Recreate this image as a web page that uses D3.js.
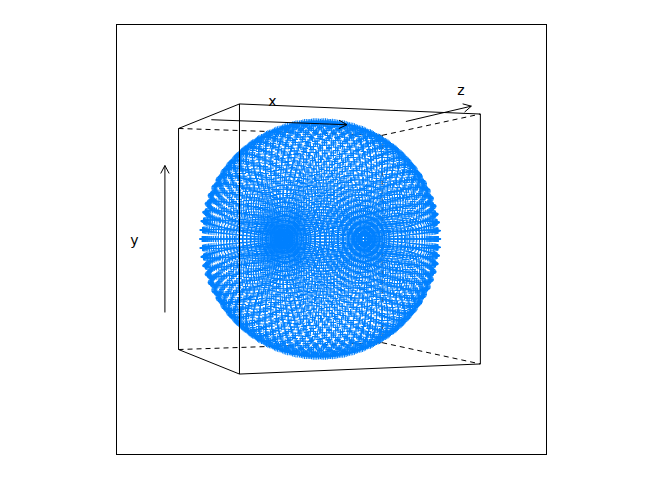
<!DOCTYPE html>
<html><head><meta charset="utf-8">
<style>html,body{margin:0;padding:0;background:#fff}svg{display:block}text{font-family:"DejaVu Sans",sans-serif;font-size:14px;fill:#000}</style>
<script src="https://cdn.jsdelivr.net/npm/d3@7/dist/d3.min.js"></script></head><body>
<script>
const latitudes=[-90,-87.5,-85,-82.5,-80,-77.5,-75,-72.5,-70,-67.5,-65,-62.5,-60,-57.5,-55,-52.5,-50,-47.5,-45,-42.5,-40,-37.5,-35,-32.5,-30,-27.5,-25,-22.5,-20,-17.5,-15,-12.5,-10,-7.5,-5,-2.5,0,2.5,5,7.5,10,12.5,15,17.5,20,22.5,25,27.5,30,32.5,35,37.5,40,42.5,45,47.5,50,52.5,55,57.5,60,62.5,65,67.5,70,72.5,75,77.5,80,82.5,85,87.5,90];
const longitudes=[0,4.5,9,13.5,18,22.5,27,31.5,36,40.5,45,49.5,54,58.5,63,67.5,72,76.5,81,85.5,90,94.5,99,103.5,108,112.5,117,121.5,126,130.5,135,139.5,144,148.5,153,157.5,162,166.5,171,175.5,180,184.5,189,193.5,198,202.5,207,211.5,216,220.5,225,229.5,234,238.5,243,247.5,252,256.5,261,265.5,270,274.5,279,283.5,288,292.5,297,301.5,306,310.5,315,319.5,324,328.5,333,337.5,342,346.5,351,355.5];
const axisNames=["x","y","z"];
const W=663,H=478,viewAngle=20,viewDist=9.75;
const sx=d3.scaleLinear().domain([-1,1]).range([320.2-117.3,320.2+117.3]);
const sy=d3.scaleLinear().domain([-1,1]).range([239+117.3,239-117.3]);
const rad=Math.PI/180,c=Math.cos(viewAngle*rad),s=Math.sin(viewAngle*rad);
function proj([x,y,z]){const X=x*c+z*s,Z=-x*s+z*c,k=1/(1-Z/viewDist);return [sx(X*k),sy(y*k)];}
const points=[];
latitudes.forEach(la=>longitudes.forEach(lo=>{const cl=Math.cos(la*rad);points.push([cl*Math.cos(lo*rad),cl*Math.sin(lo*rad),Math.sin(la*rad)]);}));
const svg=d3.select("body").append("svg").attr("width",W).attr("height",H);
svg.append("rect").attr("x",116.5).attr("y",24.5).attr("width",430).attr("height",430).attr("fill","none").attr("stroke","#000");
const line=d3.line();
const edge=(g,a,b,dash)=>g.append("path").attr("d",line([proj(a),proj(b)])).attr("fill","none").attr("stroke","#000").attr("stroke-width",1).attr("stroke-dasharray",dash||null);
const back=svg.append("g");
[[[-1,1,-1],[1,1,-1]],[[1,1,-1],[1,1,1]],[[-1,-1,-1],[1,-1,-1]],[[1,-1,-1],[1,-1,1]],[[1,1,-1],[1,-1,-1]]].forEach(e=>edge(back,e[0],e[1],"5,4"));
svg.append("g").selectAll("path").data(points).join("path")
 .attr("transform",d=>{const p=proj(d);return `translate(${p[0]},${p[1]})`;})
 .attr("d","M-3,0H3M0,-3V3").attr("fill","none").attr("stroke","#0080ff").attr("stroke-width",1.05);
const front=svg.append("g");
[[[-1,1,-1],[-1,1,1]],[[-1,1,1],[1,1,1]],[[-1,-1,-1],[-1,-1,1]],[[-1,-1,1],[1,-1,1]],[[-1,1,-1],[-1,-1,-1]],[[-1,1,1],[-1,-1,1]],[[1,1,1],[1,-1,1]]].forEach(e=>edge(front,e[0],e[1]));
function arrow(a,b){const p=proj(a),q=proj(b),ang=Math.atan2(q[1]-p[1],q[0]-p[0]),L=9,t=28*rad;
 front.append("path").attr("fill","none").attr("stroke","#000")
 .attr("d",`M${p}L${q}M${q[0]-L*Math.cos(ang-t)},${q[1]-L*Math.sin(ang-t)}L${q}L${q[0]-L*Math.cos(ang+t)},${q[1]-L*Math.sin(ang+t)}`);}
arrow([-.695,1.09,-1],[.635,1.09,-1]);
arrow([-1.125,-.662,-1],[-1.125,.662,-1]);
arrow([1,1.08,-.445],[1,1.08,.845]);
const lab=[[272.5,102],[134.5,241],[461,91]];
front.selectAll("text").data(axisNames).join("text").attr("x",(d,i)=>lab[i][0]).attr("y",(d,i)=>lab[i][1]).attr("text-anchor","middle").attr("dominant-baseline","middle").text(d=>d);
</script></body></html>
